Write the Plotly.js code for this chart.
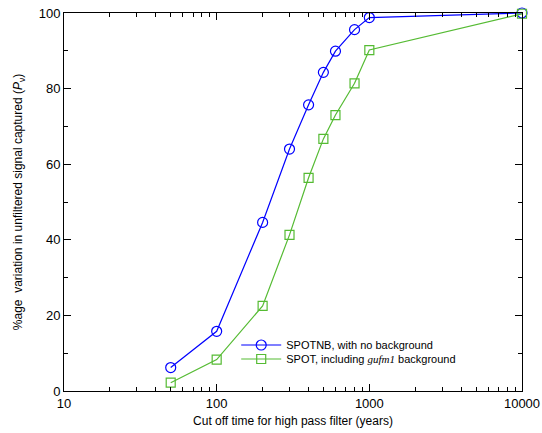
<!DOCTYPE html>
<html><head><meta charset="utf-8">
<script src="https://cdn.plot.ly/plotly-3.0.1.min.js"></script>
<style>html,body{margin:0;padding:0;background:#fff}#chart{width:542px;height:433px}</style>
</head><body><div id="chart"></div>
<script>
var cutoff = [50, 100, 200, 300, 400, 500, 600, 800, 1000, 10000];
var spotnb = [6.2, 15.8, 44.6, 64.0, 75.7, 84.3, 89.9, 95.6, 98.8, 100];
var spot = [2.2, 8.3, 22.5, 41.3, 56.4, 66.7, 73.0, 81.4, 90.2, 99.8];
var xTicks = [10, 100, 1000, 10000];
var xTickText = ['10', '100', '1000', '10000'];

var traces = [
  {x: cutoff, y: spotnb, mode: 'lines+markers', name: 'SPOTNB, with no background',
   legend: 'legend', cliponaxis: false,
   line: {color: '#0000ff', width: 1.2},
   marker: {symbol: 'circle-open', size: 10, color: '#0000ff', line: {width: 1.2}}},
  {x: cutoff, y: spot, mode: 'lines+markers', legend: 'legend2', cliponaxis: false,
   name: 'SPOT, including <span style="font-family:Liberation Serif;font-style:italic">gufm1</span> background',
   line: {color: '#55bb33', width: 1.2},
   marker: {symbol: 'square-open', size: 9, color: '#55bb33', line: {width: 1.2}}},
  {x: [], y: [], xaxis: 'x2', yaxis: 'y2', showlegend: false, hoverinfo: 'skip'}
];
var minorX = {dtick: 'D1', ticks: 'inside', ticklen: 4, tickcolor: '#000', showgrid: false};
var minorY = {dtick: 10, ticks: 'inside', ticklen: 4, tickcolor: '#000', showgrid: false};
var layout = {
  width: 542, height: 433,
  margin: {l: 64, r: 20, t: 13, b: 42},
  paper_bgcolor: '#fff', plot_bgcolor: '#fff',
  font: {family: 'Liberation Sans, Arial, sans-serif', color: '#000', size: 13},
  showlegend: true,
  legend: {x: 0.376, y: 0.16, xanchor: 'left', yanchor: 'top', bgcolor: 'rgba(0,0,0,0)',
           font: {size: 11}, itemwidth: 40},
  legend2: {x: 0.376, y: 0.123, xanchor: 'left', yanchor: 'top', bgcolor: 'rgba(0,0,0,0)',
           font: {size: 11}, itemwidth: 40},
  xaxis: {type: 'log', range: [1, 4], tickvals: xTicks, ticktext: xTickText,
          ticks: 'inside', ticklen: 7, tickcolor: '#000', showline: true, linecolor: '#000', linewidth: 1,
          mirror: true, showgrid: false, zeroline: false, minor: minorX,
          title: {text: 'Cut off time for high pass filter (years)', font: {size: 12}, standoff: 7}},
  yaxis: {range: [0, 100], dtick: 20, ticks: 'inside', ticklen: 7, tickcolor: '#000',
          showline: true, linecolor: '#000', linewidth: 1, mirror: true, showgrid: false, zeroline: false,
          minor: minorY,
          title: {text: '%age  variation in unfiltered signal captured (<i>P</i><sub>ν</sub>)', font: {size: 12}, standoff: 13}},
  xaxis2: {type: 'log', range: [1, 4], overlaying: 'x', side: 'top', tickvals: xTicks, showticklabels: false,
           ticks: 'inside', ticklen: 7, tickcolor: '#000', showgrid: false, zeroline: false, showline: false,
           minor: minorX},
  yaxis2: {range: [0, 100], dtick: 20, overlaying: 'y', side: 'right', showticklabels: false,
           ticks: 'inside', ticklen: 7, tickcolor: '#000', showgrid: false, zeroline: false, showline: false,
           minor: minorY}
};
Plotly.newPlot('chart', traces, layout, {displayModeBar: false, staticPlot: true});
</script></body></html>
